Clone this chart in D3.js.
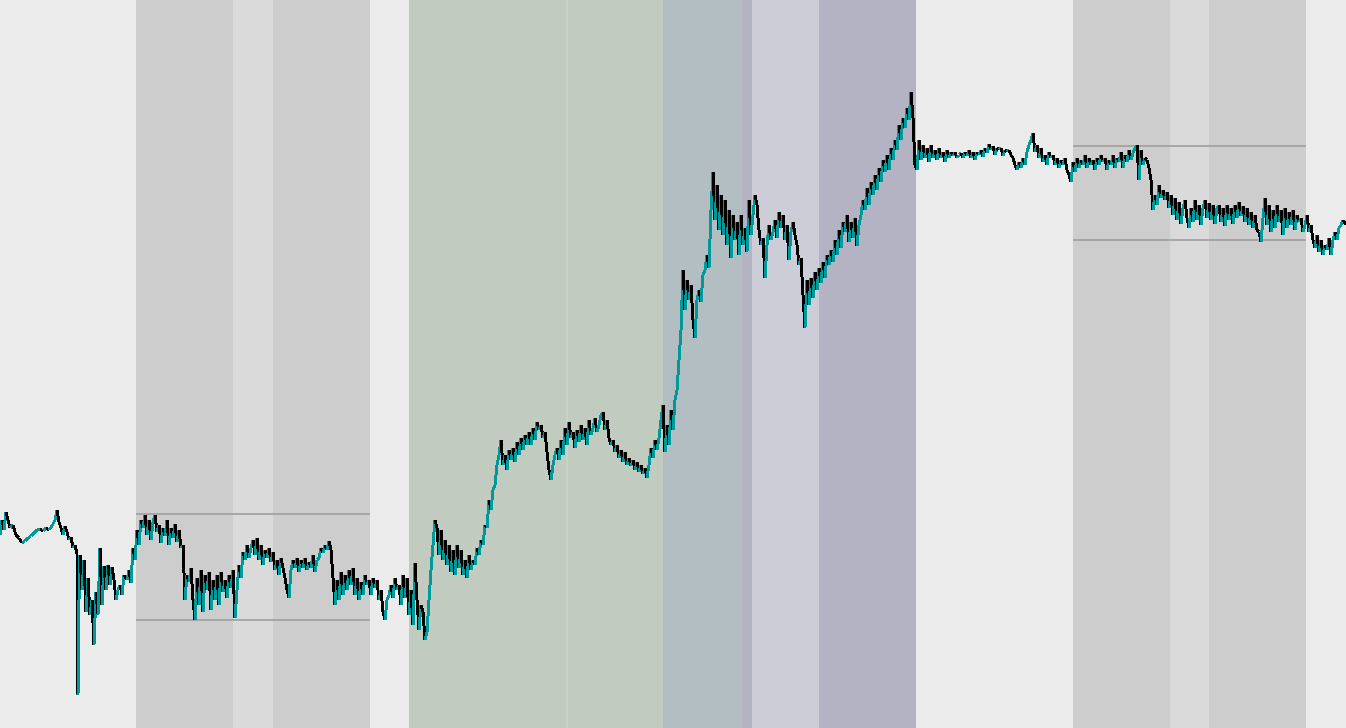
<!DOCTYPE html>
<html>
<head>
<meta charset="utf-8">
<script src="https://cdn.jsdelivr.net/npm/d3@7"></script>
<style>
  body { margin: 0; background: #ebebeb; overflow: hidden; }
  svg { display: block; }
</style>
</head>
<body>
<div id="chart"></div>
<script>
// session periods (day index) and their kind
var periods = [
  [136, 233, "range"], [233, 273, "pause"], [273, 370, "range"],
  [409, 566, "trendUp"], [566, 568, "seam"], [568, 663, "trendUp"],
  [663, 742, "breakout"], [742, 752, "trendDown"], [752, 819, "retest"], [819, 916, "trendDown"],
  [1073, 1170, "range"], [1170, 1209, "pause"], [1209, 1306, "range"]
];

// high / low of the two ranging periods
var rangeLevels = [
  [136, 370, 486, 380],
  [1073, 1306, 854, 760]
];

// [day, close]
var closes = [
[0,465],[2,480],[4,470],[6,488],[8,480],[10,472],[13,475],[16,465],[19,462],[22,457],[25,459],[28,462],[31,464],[34,467],[37,470],[40,471],[43,469],[46,472],[49,470],[52,474],[55,480],[57,490],[59,478],[61,472],[63,465],[65,474],[67,468],[69,460],[71,463],[73,452],[75,455],[77,446],[78,305],[79,400],[80,445],[82,410],[84,440],[86,388],[88,422],[90,385],[92,400],[94,355],[96,408],[98,385],[100,452],[102,395],[104,434],[106,410],[108,435],[110,415],[112,433],[114,420],[116,400],[118,410],[120,415],[122,405],[124,425],[127,420],[129,430],[131,417],[133,452],[135,440],[137,470],
[139,455],[141,480],[143,472],[145,485],[147,465],[149,480],[151,460],[153,478],[155,485],[157,468],[159,475],[161,457],[163,472],[165,464],[167,480],[169,455],[171,472],[173,462],[175,476],[177,458],[179,470],[181,452],[183,455],[185,400],[187,425],[189,418],[191,432],[193,400],[195,380],[197,422],[199,395],[201,430],[203,388],[205,425],[207,410],[209,428],[211,390],[213,420],[215,400],[217,425],[219,395],[221,428],[223,408],[225,420],[227,402],[229,425],[231,412],[233,430],[235,382],[237,410],[239,435],[241,422],[243,448],[245,440],[247,455],[249,442],[251,452],[253,460],[255,445],[257,462],[259,440],[261,455],[263,435],[265,450],[267,442],[269,452],[271,438],[273,448],[275,430],[277,440],[279,425],[281,442],[283,432],[285,422],[287,410],[289,402],[291,430],[293,440],[295,432],[297,442],[299,428],[301,440],[303,432],[305,442],[307,430],[309,438],[311,432],[313,445],[315,428],[317,440],[319,442],[321,452],[323,447],[325,455],[327,450],[329,459],[331,450],[333,422],[335,395],[337,420],[339,400],[341,428],[343,405],[345,425],[347,410],[349,430],[351,415],[353,432],[355,405],[357,422],[359,400],[361,418],[363,405],[365,425],[367,415],[369,420],
[371,405],[373,422],[375,412],[377,420],[379,400],[381,410],[383,388],[385,380],[387,400],[389,405],[391,415],[393,402],[395,422],[397,410],[399,415],[401,395],[403,425],[405,402],[407,422],[409,385],[411,410],[413,375],[415,437],[417,400],[419,370],[421,395],[423,388],[425,360],[427,368],[429,400],[431,430],[433,455],[435,480],[437,472],[439,445],[441,470],[443,440],[445,460],[447,435],[449,455],[451,428],[453,450],[455,425],[457,455],[459,432],[461,450],[463,425],[465,440],[467,422],[469,445],[471,430],[473,440],[475,435],[477,452],[479,445],[481,460],[483,455],[485,475],[487,472],[489,500],[491,490],[493,510],[495,515],[497,535],[499,545],[501,560],[503,535],[505,545],[507,530],[509,550],[511,540],[513,552],[515,538],[517,558],[519,545],[521,562],[523,550],[525,565],[527,555],[529,568],[531,555],[533,572],[535,560],[537,578],[539,570],[541,575],[543,562],[545,568],[547,548],[549,530],[551,520],[553,535],[555,545],[557,552],[559,540],[561,560],[563,545],[565,572],[567,555],[569,578],[571,562],[573,568],[575,552],[577,570],[579,558],[581,575],[583,560],[585,572],[587,555],[589,580],[591,565],[593,572],[595,582],[597,568],[599,575],[601,585],[603,588],[605,570],[607,580],[609,562],[611,555],[613,560],[615,548],[617,555],[619,542],[621,550],[623,538],[625,548],[627,535],[629,542],[631,534],[633,540],[635,530],[637,538],[639,528],[641,535],[643,526],[645,532],[647,522],[649,535],[651,552],[653,542],[655,560],[657,550],[659,562],[661,580],[663,595],[665,548],[667,575],[669,555],[671,590],[673,570],[675,600],[677,610],[679,640],[681,670],[683,730],[685,690],[687,720],[689,700],[691,715],[693,680],[695,662],[697,700],[699,710],[701,698],[703,725],[705,730],[707,745],[709,732],[711,790],[713,828],[715,780],[717,815],[719,770],[721,805],[723,765],[725,800],[727,755],[729,790],[731,742],[733,785],[735,760],[737,778],[739,745],[741,785],[743,755],[745,772],[747,748],[749,800],[751,765],[753,785],[755,805],[757,795],[759,770],[761,755],[763,762],[765,722],[767,755],[769,775],[771,760],[773,768],[775,780],[777,762],[779,788],[781,772],[783,785],[785,760],[787,775],[789,740],[791,768],[793,778],[795,765],[797,755],[799,735],[801,742],[803,705],[805,672],[807,720],[809,695],[811,722],[813,702],[815,728],[817,710],[819,732],[821,717],[823,738],[825,722],[827,745],[829,735],[831,750],[833,738],[835,760],[837,745],[839,770],[841,752],[843,778],[845,768],[847,785],[849,758],[851,778],[853,762],[855,782],[857,754],[859,775],[861,785],[863,800],[865,790],[867,812],[869,795],[871,818],[873,805],[875,825],[877,810],[879,832],[881,818],[883,840],[885,828],[887,845],[889,830],[891,852],[893,840],[895,860],[897,850],[899,875],[901,860],[903,882],[905,872],[907,892],[909,880],[911,908],[913,882],[915,835],
[917,830],[919,860],[921,840],[923,855],[925,842],[927,852],[929,838],[931,855],[933,842],[935,850],[937,840],[939,852],[941,842],[943,848],[945,838],[947,850],[949,842],[951,848],[953,844],[955,848],[957,842],[959,845],[961,847],[963,842],[965,848],[967,844],[969,850],[971,842],[973,848],[975,840],[977,848],[979,845],[981,850],[983,843],[985,852],[987,847],[989,856],[991,850],[993,854],[995,845],[997,852],[999,850],[1001,852],[1003,844],[1005,850],[1007,848],[1009,850],[1011,845],[1013,842],[1015,835],[1017,830],[1019,838],[1021,832],[1023,842],[1025,835],[1027,848],[1029,855],[1031,860],[1033,867],[1035,848],[1037,855],[1039,842],[1041,852],[1043,838],[1045,845],[1047,835],[1049,848],[1051,842],[1053,845],[1055,835],[1057,842],[1059,832],[1061,840],[1063,835],[1065,842],[1067,830],[1069,825],[1071,818],[1073,838],[1075,828],[1077,842],[1079,832],[1081,840],[1083,835],[1085,845],[1087,832],[1089,842],[1091,835],[1093,840],[1095,830],[1097,842],[1099,835],[1101,845],[1103,838],[1105,842],[1107,830],[1109,840],[1111,835],[1113,845],[1115,832],[1117,842],[1119,838],[1121,848],[1123,832],[1125,845],[1127,838],[1129,850],[1131,840],[1133,847],[1135,852],[1137,855],[1139,820],[1141,850],[1143,835],[1145,842],[1147,840],[1149,832],[1151,820],[1153,790],[1155,805],[1157,795],[1159,815],[1161,802],[1163,810],[1165,800],[1167,808],[1169,792],[1171,805],[1173,785],[1175,802],[1177,780],[1179,798],[1181,776],[1183,792],[1185,800],[1187,782],[1189,772],[1191,792],[1193,778],[1195,800],[1197,780],[1199,795],[1201,775],[1203,792],[1205,800],[1207,782],[1209,797],[1211,780],[1213,795],[1215,776],[1217,792],[1219,795],[1221,778],[1223,792],[1225,774],[1227,795],[1229,780],[1231,792],[1233,776],[1235,795],[1237,782],[1239,798],[1241,784],[1243,794],[1245,778],[1247,792],[1249,775],[1251,788],[1253,772],[1255,785],[1257,770],[1259,768],[1261,758],[1263,782],[1265,802],[1267,775],[1269,795],[1271,768],[1273,790],[1275,772],[1277,795],[1279,778],[1281,790],[1283,765],[1285,792],[1287,772],[1289,788],[1291,775],[1293,790],[1295,770],[1297,785],[1299,778],[1301,782],[1303,768],[1305,775],[1307,785],[1309,768],[1311,775],[1313,760],[1315,752],[1317,765],[1319,748],[1321,760],[1323,745],[1325,755],[1327,750],[1329,762],[1331,745],[1333,760],[1335,768],[1337,760],[1339,772],[1341,775],[1343,780],[1346,775]
];

var width = 1346, height = 728;

var x = d3.scaleLinear().domain([0, 1346]).range([0, width]);
var y = d3.scaleLinear().domain([272, 1000]).range([height, 0]);

var shade = d3.scaleOrdinal()
  .domain(["range", "pause", "trendUp", "seam", "breakout", "trendDown", "retest"])
  .range(["#cdcdcd", "#dadada", "#c1cbbf", "#c9d2c7", "#b3bec3", "#b4b3c4", "#cdcdd7"]);

var svg = d3.select("#chart").append("svg")
  .attr("width", width)
  .attr("height", height);

svg.append("rect")
  .attr("width", width)
  .attr("height", height)
  .attr("fill", "#ebebeb");

svg.append("g").selectAll("rect")
  .data(periods)
  .join("rect")
    .attr("x", function(d) { return x(d[0]); })
    .attr("width", function(d) { return x(d[1]) - x(d[0]); })
    .attr("y", 0)
    .attr("height", height)
    .attr("fill", function(d) { return shade(d[2]); });

var levels = svg.append("g")
  .attr("stroke", "#999")
  .attr("stroke-width", 1.5);

rangeLevels.forEach(function(r) {
  [r[2], r[3]].forEach(function(v) {
    levels.append("line")
      .attr("x1", x(r[0])).attr("x2", x(r[1]))
      .attr("y1", y(v)).attr("y2", y(v));
  });
});

// each step coloured by its direction
svg.append("g")
  .attr("stroke-width", 3)
  .attr("stroke-linecap", "butt")
  .attr("shape-rendering", "crispEdges")
  .selectAll("line")
  .data(d3.pairs(closes))
  .join("line")
    .attr("x1", function(d) { return x(d[0][0]); })
    .attr("y1", function(d) { return y(d[0][1]); })
    .attr("x2", function(d) { return x(d[1][0]); })
    .attr("y2", function(d) { return y(d[1][1]); })
    .attr("stroke", function(d) { return d[1][1] >= d[0][1] ? "#00999a" : "#000"; });
</script>
</body>
</html>
